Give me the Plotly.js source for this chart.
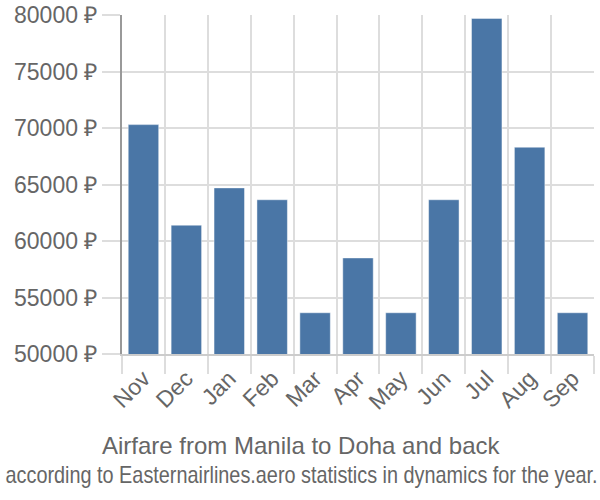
<!DOCTYPE html>
<html>
<head>
<meta charset="utf-8">
<script src="https://cdn.plot.ly/plotly-3.0.1.min.js"></script>
<style>html,body{margin:0;padding:0;background:#fff}#chart{width:600px;height:500px}</style>
</head>
<body>
<div id="chart"></div>
<script>
const months = ["Nov","Dec","Jan","Feb","Mar","Apr","May","Jun","Jul","Aug","Sep"];
const prices = [70300, 61400, 64700, 63650, 53650, 58500, 53650, 63650, 79700, 68300, 53650];
const yTicks = [50000, 55000, 60000, 65000, 70000, 75000, 80000];
const yTickText = yTicks.map(v => v + " ₽");
const titleText = "Airfare from Manila to Doha and back";
const subtitleText = "according to Easternairlines.aero statistics in dynamics for the year.";

const trace = {
  type: "bar",
  x: months,
  y: prices,
  marker: {color: "#4a76a6", line: {color: "rgba(255,255,255,0.45)", width: 1}},
  hoverinfo: "none"
};

const layout = {
  width: 600, height: 500,
  margin: {l: 122, r: 6, t: 15, b: 146},
  paper_bgcolor: "#fff", plot_bgcolor: "#fff",
  bargap: 0.29,
  showlegend: false,
  font: {family: "Liberation Sans, Arial, sans-serif", color: "#666"},
  xaxis: {
    type: "category",
    tickson: "boundaries",
    ticks: "outside", ticklen: 18, tickcolor: "#ddd", tickwidth: 2,
    showgrid: true, gridcolor: "#ddd", gridwidth: 2,
    showline: true, linecolor: "#ccc", linewidth: 2,
    tickangle: -45,
    tickfont: {size: 23, color: "#666"},
    zeroline: false
  },
  yaxis: {
    range: [50000, 80000],
    tickvals: yTicks, ticktext: yTickText,
    ticks: "outside", ticklen: 18, tickcolor: "#ddd", tickwidth: 2,
    showgrid: true, gridcolor: "#ddd", gridwidth: 2,
    showline: true, linecolor: "#999", linewidth: 2,
    tickfont: {size: 23, color: "#666"},
    zeroline: false
  },
  annotations: [
    {text: titleText, xref: "paper", yref: "paper", x: 0.5, y: 0, xanchor: "center", yanchor: "middle",
     yshift: -91, xshift: -57, showarrow: false, font: {size: 24, color: "#666"}},
    {text: subtitleText, xref: "paper", yref: "paper", x: 0.5, y: 0, xanchor: "center", yanchor: "middle",
     yshift: -122, xshift: -57, showarrow: false, font: {size: 19, color: "#666"}}
  ]
};

Plotly.newPlot("chart", [trace], layout, {staticPlot: true, displayModeBar: false}).then(gd => {
  // condense the subtitle like the reference (same text, narrower glyphs)
  const texts = gd.querySelectorAll(".annotation-text");
  texts.forEach(t => {
    if (t.textContent === subtitleText) {
      t.style.fontSize = "24px";
      t.setAttribute("textLength", "592");
      t.setAttribute("lengthAdjust", "spacingAndGlyphs");
    }
  });
});
</script>
</body>
</html>
